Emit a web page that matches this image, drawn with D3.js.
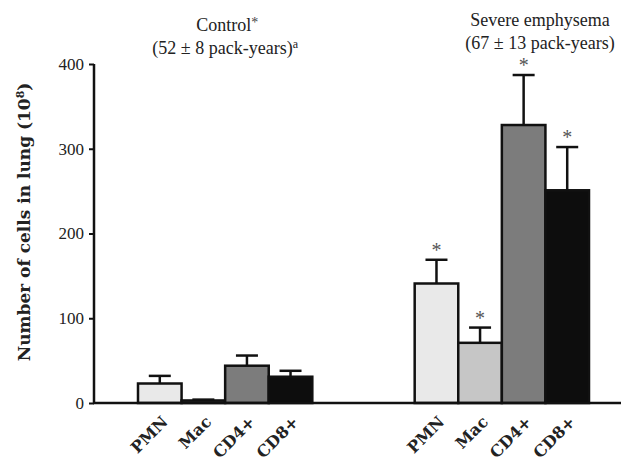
<!DOCTYPE html>
<html>
<head>
<meta charset="utf-8">
<script src="https://cdn.jsdelivr.net/npm/d3@7"></script>
<style>
  html, body { margin: 0; padding: 0; background: #ffffff; }
  svg { display: block; }
</style>
</head>
<body>
<svg id="chart" width="621" height="462"></svg>
<script>
// ---- data ----
const categories = ["PMN", "Mac", "CD4+", "CD8+"];
const groups = ["Control", "Severe emphysema"];
const controlValues = [23, 3, 44, 31];
const controlErrors = [9, 1, 12, 7];
const severeValues = [141, 71, 328, 251];
const severeErrors = [28, 18, 59, 51];
const severeSignificant = [true, true, true, true];
const yTicks = [0, 100, 200, 300, 400];

const fills = { "PMN": "#e9e9e9", "Mac": "#c6c6c6", "CD4+": "#7c7c7c", "CD8+": "#0d0d0d" };

const rows = [];
categories.forEach((c, i) => {
  rows.push({ group: groups[0], cat: c, value: controlValues[i], err: controlErrors[i], sig: false });
});
categories.forEach((c, i) => {
  rows.push({ group: groups[1], cat: c, value: severeValues[i], err: severeErrors[i], sig: severeSignificant[i] });
});

const svg = d3.select("#chart");
const font = "'Liberation Serif', 'DejaVu Serif', serif";
const wideFont = "'DejaVu Serif', serif";

const x0 = d3.scaleBand().domain(groups).range([138, 589]).paddingInner(0.37).paddingOuter(0);
const x1 = d3.scaleBand().domain(categories).range([0, x0.bandwidth()]).padding(0);
const y = d3.scaleLinear().domain([0, 400]).range([403, 64]);

// y axis
const yAxis = d3.axisLeft(y).tickValues(yTicks).tickSize(5).tickPadding(5).tickFormat(d3.format("d"));
const gy = svg.append("g").attr("transform", "translate(94,0)").call(yAxis);
gy.select(".domain").attr("stroke", "#111").attr("stroke-width", 2.5).attr("d", "M0," + y(400) + "V" + y(0));
gy.selectAll(".tick line").attr("stroke", "#111").attr("stroke-width", 2);
gy.selectAll(".tick text").attr("font-family", font).attr("font-size", 17).attr("fill", "#222");

// y label
svg.append("text")
  .attr("transform", "translate(30,222) rotate(-90)")
  .attr("text-anchor", "middle")
  .attr("font-family", wideFont)
  .attr("font-size", 17)
  .attr("font-weight", "bold")
  .attr("fill", "#222")
  .html("Number of cells in lung (10<tspan dy='-6' font-size='11'>8</tspan><tspan dy='6'>)</tspan>");

// bars
const barG = svg.append("g");
barG.selectAll("rect").data(rows).join("rect")
  .attr("x", d => x0(d.group) + x1(d.cat))
  .attr("y", d => y(d.value))
  .attr("width", x1.bandwidth())
  .attr("height", d => y(0) - y(d.value))
  .attr("fill", d => fills[d.cat])
  .attr("stroke", "#111")
  .attr("stroke-width", 2.5);

// error bars
const errG = svg.append("g").attr("stroke", "#111").attr("stroke-width", 2.5);
rows.forEach(d => {
  const cx = x0(d.group) + x1(d.cat) + x1.bandwidth() / 2;
  errG.append("line").attr("x1", cx).attr("x2", cx).attr("y1", y(d.value)).attr("y2", y(d.value + d.err));
  errG.append("line").attr("x1", cx - 11).attr("x2", cx + 11).attr("y1", y(d.value + d.err)).attr("y2", y(d.value + d.err));
});

// significance asterisks
svg.append("g").selectAll("text").data(rows.filter(d => d.sig)).join("text")
  .attr("x", d => x0(d.group) + x1(d.cat) + x1.bandwidth() / 2)
  .attr("y", d => y(d.value + d.err) - 3)
  .attr("text-anchor", "middle")
  .attr("font-family", font)
  .attr("font-size", 20)
  .attr("fill", "#555")
  .text("*");

// x baseline
svg.append("line").attr("x1", 93).attr("x2", 621).attr("y1", y(0)).attr("y2", y(0))
  .attr("stroke", "#111").attr("stroke-width", 2.5);

// category labels
svg.append("g").selectAll("text").data(rows).join("text")
  .attr("transform", d => {
    const cx = x0(d.group) + x1(d.cat) + x1.bandwidth() / 2 + 5;
    return "translate(" + cx + ",419) rotate(-45)";
  })
  .attr("text-anchor", "end")
  .attr("dy", "0.35em")
  .attr("font-family", wideFont)
  .attr("font-size", 16)
  .attr("font-weight", "bold")
  .attr("fill", "#222")
  .text(d => d.cat);

// group titles
const cCenter = x0(groups[0]) + x0.bandwidth() / 2;
const sCenter = 540;
svg.append("text").attr("x", cCenter + 2).attr("y", 31).attr("text-anchor", "middle")
  .attr("font-family", font).attr("font-size", 18).attr("fill", "#222")
  .html("Control<tspan dy='-4' font-size='14' fill='#444'>*</tspan>");
svg.append("text").attr("x", cCenter).attr("y", 54).attr("text-anchor", "middle")
  .attr("font-family", font).attr("font-size", 18).attr("fill", "#222")
  .html("(52 ± 8 pack-years)<tspan dy='-6' font-size='12'>a</tspan>");
svg.append("text").attr("x", sCenter).attr("y", 26).attr("text-anchor", "middle")
  .attr("font-family", font).attr("font-size", 18).attr("fill", "#222")
  .text("Severe emphysema");
svg.append("text").attr("x", sCenter).attr("y", 49).attr("text-anchor", "middle")
  .attr("font-family", font).attr("font-size", 18).attr("fill", "#222")
  .text("(67 ± 13 pack-years)");
</script>
</body>
</html>
